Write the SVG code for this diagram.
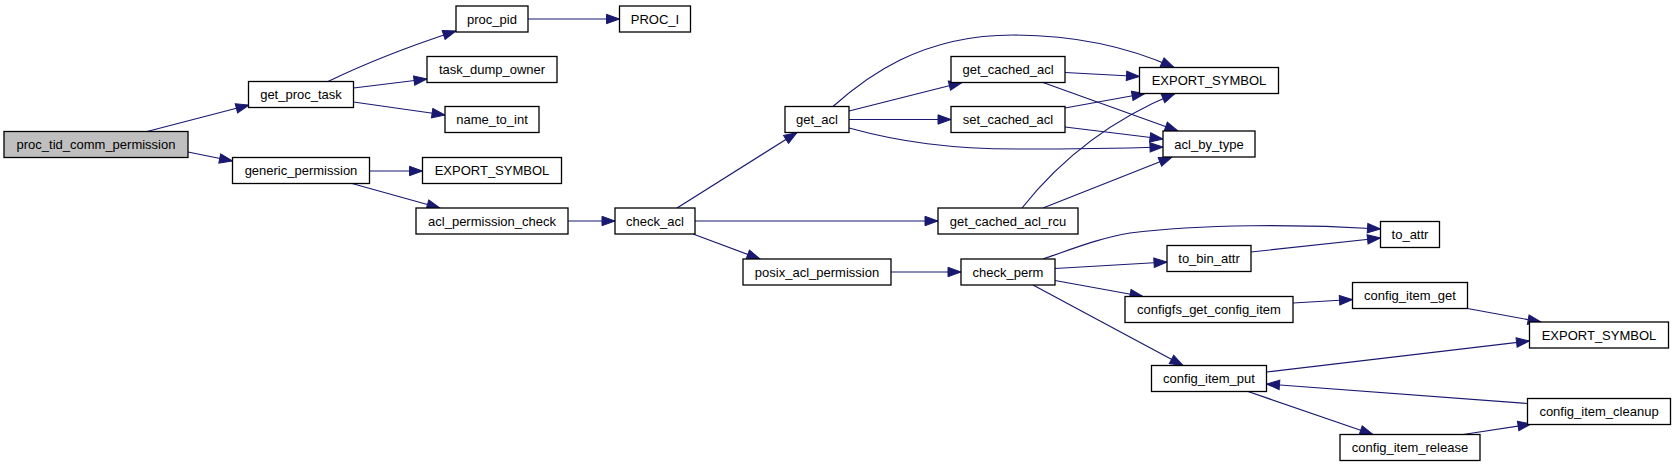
<svg xmlns="http://www.w3.org/2000/svg" width="1675" height="467" viewBox="0 0 1675 467">
<style>
.n rect{fill:#ffffff;stroke:#000000;stroke-width:1.3}
.n.root rect{fill:#bfbfbf}
.n text{font-family:"Liberation Sans",Arial,Helvetica,sans-serif;font-size:13px;fill:#000000;text-anchor:middle}
.e path{fill:none;stroke:#191970;stroke-width:1.2;marker-end:url(#ah)}
</style>
<defs>
<marker id="ah" markerUnits="userSpaceOnUse" markerWidth="15" markerHeight="11" refX="13" refY="5" orient="auto" overflow="visible">
<path d="M0,0.3 L13,5 L0,9.7 z" fill="#191970" stroke="#191970" stroke-width="1"/>
</marker>
</defs>
<rect x="0" y="0" width="1675" height="467" fill="#ffffff"/>
<g id="connectors" class="e">
<path d="M147,131.5 L249,105"/>
<path d="M188,152 L232.5,161"/>
<path d="M328,81.5 C360,66 410,46 456,31"/>
<path d="M353.5,88 L427,79"/>
<path d="M353.5,102 L445,115"/>
<path d="M369.5,171 L422.5,171"/>
<path d="M352,183.5 L440,208"/>
<path d="M528,19 L619.5,19"/>
<path d="M568,221 L615,221"/>
<path d="M677,208 L797,132.5"/>
<path d="M695,221 L938,221"/>
<path d="M693,234 L760,259"/>
<path d="M833,106.5 C865,78 920,35 1013,35 C1080,35 1135,50 1174,67.5"/>
<path d="M849,111 L962,82.5"/>
<path d="M849,119.5 L951,119.5"/>
<path d="M849,128 C900,142 950,149 1020,149 C1080,149 1130,148 1163,147"/>
<path d="M1065,72.5 L1139.5,76.5"/>
<path d="M1043,82.5 L1178,131"/>
<path d="M1065,108 L1145,93.5"/>
<path d="M1065,127 L1163,139"/>
<path d="M1022,208 C1060,160 1110,120 1175,93.5"/>
<path d="M1043,208 L1172,157"/>
<path d="M891,272 L961,272"/>
<path d="M1043,259 C1075,248 1100,238 1130,233 C1200,224 1300,224 1380.5,229"/>
<path d="M1055,268.5 L1167,262"/>
<path d="M1055,280.5 L1143,296.5"/>
<path d="M1033,285 L1183,365.5"/>
<path d="M1251,252 L1380.5,238"/>
<path d="M1293,303 L1352.5,299.5"/>
<path d="M1467.5,308.5 L1541,322"/>
<path d="M1266.5,372 L1529.5,341"/>
<path d="M1248,391.5 L1373,434.5"/>
<path d="M1463,434.5 L1531,424"/>
<path d="M1527.5,403.5 L1266.5,384"/>
</g>
<g id="proc_tid_comm_permission" class="n root"><rect x="4" y="131.5" width="184" height="26"/><text x="96" y="149">proc_tid_comm_permission</text></g>
<g id="get_proc_task" class="n"><rect x="248.5" y="81.5" width="105" height="26"/><text x="301" y="99">get_proc_task</text></g>
<g id="generic_permission" class="n"><rect x="232.5" y="157.5" width="137" height="26"/><text x="301" y="175">generic_permission</text></g>
<g id="proc_pid" class="n"><rect x="456" y="6" width="72" height="26"/><text x="492" y="23.5">proc_pid</text></g>
<g id="task_dump_owner" class="n"><rect x="427" y="56.5" width="130" height="26"/><text x="492" y="74">task_dump_owner</text></g>
<g id="name_to_int" class="n"><rect x="445" y="106.5" width="94" height="26"/><text x="492" y="124">name_to_int</text></g>
<g id="export_symbol_1" class="n"><rect x="422.5" y="157.5" width="139" height="26"/><text x="492" y="175">EXPORT_SYMBOL</text></g>
<g id="acl_permission_check" class="n"><rect x="416" y="208" width="152" height="26"/><text x="492" y="225.5">acl_permission_check</text></g>
<g id="PROC_I" class="n"><rect x="619.5" y="6" width="71" height="26"/><text x="655" y="23.5">PROC_I</text></g>
<g id="check_acl" class="n"><rect x="615" y="208" width="80" height="26"/><text x="655" y="225.5">check_acl</text></g>
<g id="get_acl" class="n"><rect x="785" y="106.5" width="64" height="26"/><text x="817" y="124">get_acl</text></g>
<g id="posix_acl_permission" class="n"><rect x="743" y="259" width="148" height="26"/><text x="817" y="276.5">posix_acl_permission</text></g>
<g id="get_cached_acl" class="n"><rect x="951" y="56.5" width="114" height="26"/><text x="1008" y="74">get_cached_acl</text></g>
<g id="set_cached_acl" class="n"><rect x="951" y="106.5" width="114" height="26"/><text x="1008" y="124">set_cached_acl</text></g>
<g id="get_cached_acl_rcu" class="n"><rect x="938" y="208" width="140" height="26"/><text x="1008" y="225.5">get_cached_acl_rcu</text></g>
<g id="check_perm" class="n"><rect x="961" y="259" width="94" height="26"/><text x="1008" y="276.5">check_perm</text></g>
<g id="export_symbol_2" class="n"><rect x="1139.5" y="67.5" width="139" height="26"/><text x="1209" y="85">EXPORT_SYMBOL</text></g>
<g id="acl_by_type" class="n"><rect x="1163" y="131" width="92" height="26"/><text x="1209" y="148.5">acl_by_type</text></g>
<g id="to_bin_attr" class="n"><rect x="1167" y="245.5" width="84" height="26"/><text x="1209" y="263">to_bin_attr</text></g>
<g id="configfs_get_config_item" class="n"><rect x="1125" y="296.5" width="168" height="26"/><text x="1209" y="314">configfs_get_config_item</text></g>
<g id="config_item_put" class="n"><rect x="1151.5" y="365.5" width="115" height="26"/><text x="1209" y="383">config_item_put</text></g>
<g id="to_attr" class="n"><rect x="1380.5" y="221.5" width="59" height="26"/><text x="1410" y="239">to_attr</text></g>
<g id="config_item_get" class="n"><rect x="1352.5" y="282.5" width="115" height="26"/><text x="1410" y="300">config_item_get</text></g>
<g id="config_item_release" class="n"><rect x="1340" y="434.5" width="140" height="26"/><text x="1410" y="452">config_item_release</text></g>
<g id="export_symbol_3" class="n"><rect x="1529.5" y="322" width="139" height="26"/><text x="1599" y="339.5">EXPORT_SYMBOL</text></g>
<g id="config_item_cleanup" class="n"><rect x="1527.5" y="398.5" width="143" height="26"/><text x="1599" y="416">config_item_cleanup</text></g>
</svg>
